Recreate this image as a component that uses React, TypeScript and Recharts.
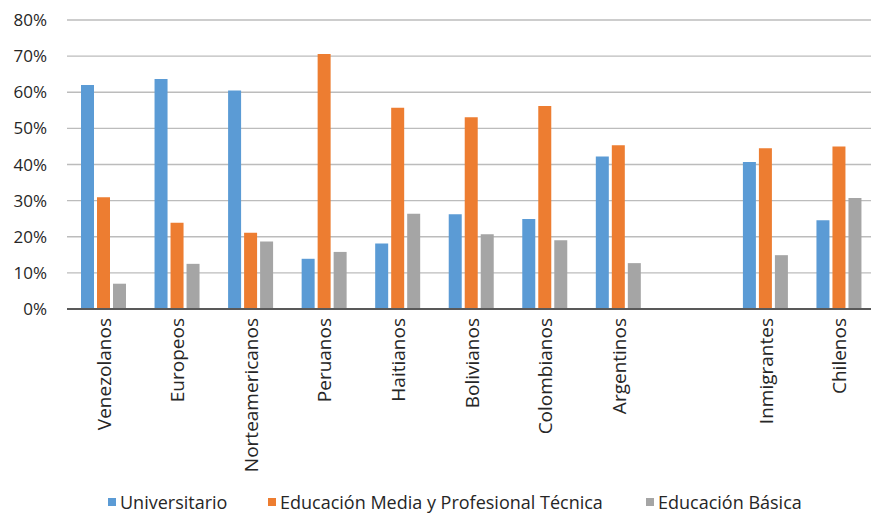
import React from 'react';
import { BarChart, Bar, XAxis, YAxis, CartesianGrid, Legend } from 'recharts';

const categories = ['Venezolanos', 'Europeos', 'Norteamericanos', 'Peruanos', 'Haitianos', 'Bolivianos', 'Colombianos', 'Argentinos', '', 'Inmigrantes', 'Chilenos'];
const universitario = [62.0, 63.7, 60.5, 13.9, 18.1, 26.2, 24.9, 42.2, null, 40.7, 24.6];
const mediaTecnica = [30.9, 23.9, 21.1, 70.6, 55.7, 53.1, 56.2, 45.3, null, 44.5, 45.0];
const basica = [7.0, 12.5, 18.7, 15.8, 26.4, 20.7, 19.0, 12.7, null, 14.9, 30.7];
const yTicks = [0, 10, 20, 30, 40, 50, 60, 70, 80];

const seriesNames = ['Universitario', 'Educación Media y Profesional Técnica', 'Educación Básica'];
const seriesColors = ['#5B9BD5', '#ED7D31', '#A5A5A5'];

const data = categories.map((c, i) => ({
  name: c,
  u: universitario[i],
  m: mediaTecnica[i],
  b: basica[i],
}));

const FONT = '"Open Sans", sans-serif';
const TEXT = '#262626';

const XTick = (props: any) => {
  const { x, y, payload } = props;
  return (
    <text
      x={x}
      y={y}
      transform={`rotate(-90, ${x}, ${y})`}
      textAnchor="end"
      dominantBaseline="central"
      fontFamily={FONT}
      fontSize={19}
      fill={TEXT}
    >
      {payload.value}
    </text>
  );
};

const renderLegend = () => (
  <div style={{ position: 'relative', width: 871, height: 25, fontFamily: FONT, fontSize: 18, color: TEXT }}>
    {seriesNames.map((n, i) => {
      const lefts = [108, 268, 646];
      return (
        <div key={n} style={{ position: 'absolute', left: lefts[i], top: 0, height: 25, display: 'flex', alignItems: 'center', whiteSpace: 'nowrap' }}>
          <span style={{ display: 'inline-block', width: 8, height: 8, background: seriesColors[i], marginRight: 4 }} />
          <span>{n}</span>
        </div>
      );
    })}
  </div>
);

export default function App() {
  return (
    <div style={{ position: 'absolute', left: 0, top: 0, width: 871, height: 513, overflow: 'hidden', background: '#fff' }}>
      <BarChart
        width={876}
        height={513}
        data={data}
        margin={{ top: 20, right: 0, bottom: 0, left: 0 }}
        barGap={3}
        barSize={13}
      >
        <CartesianGrid vertical={false} stroke="#bcbcbc" strokeWidth={1.3} />
        <XAxis
          dataKey="name"
          interval={0}
          height={179}
          tickSize={0}
          tickMargin={9}
          tick={<XTick />}
          axisLine={{ stroke: '#595959', strokeWidth: 2 }}
          tickLine={false}
        />
        <YAxis
          width={67}
          domain={[0, 80]}
          ticks={yTicks}
          tickFormatter={(v: number) => `${v}%`}
          axisLine={false}
          tickLine={false}
          tickSize={0}
          tickMargin={20}
          tick={{ fontFamily: FONT, fontSize: 17, fill: TEXT }}
        />
        <Legend
          verticalAlign="bottom"
          content={renderLegend}
          wrapperStyle={{ position: 'absolute', left: 0, top: 489, width: 871, height: 25 }}
        />
        <Bar dataKey="u" name={seriesNames[0]} fill={seriesColors[0]} isAnimationActive={false} />
        <Bar dataKey="m" name={seriesNames[1]} fill={seriesColors[1]} isAnimationActive={false} />
        <Bar dataKey="b" name={seriesNames[2]} fill={seriesColors[2]} isAnimationActive={false} />
      </BarChart>
    </div>
  );
}
